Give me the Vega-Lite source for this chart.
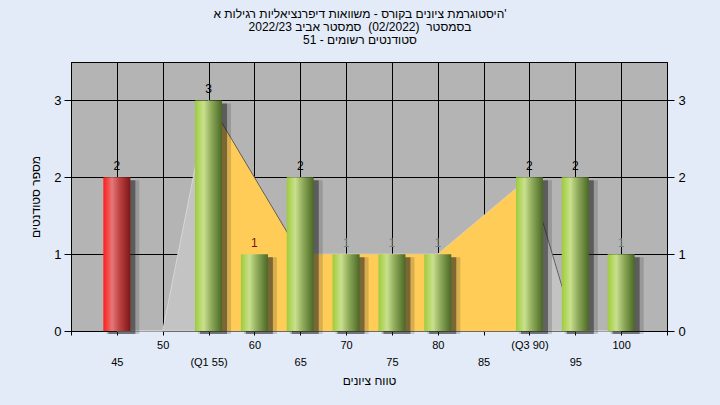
{
  "$schema": "https://vega.github.io/schema/vega-lite/v6.json",
  "width": 596,
  "height": 269,
  "autosize": "none",
  "padding": {"left": 71, "top": 62, "right": 53, "bottom": 74},
  "background": "#E2EBF7",
  "config": {
    "view": {"fill": "#B4B4B4", "stroke": "#000000", "strokeWidth": 1},
    "font": "Liberation Sans"
  },
  "title": {
    "text": [
      "היסטוגרמת ציונים בקורס - משוואות דיפרנציאליות רגילות א'",
      "בסמסטר \u00a0(02/2022)\u00a0 סמסטר אביב 2022/23",
      "סטודנטים רשומים - 51"
    ],
    "font": "Liberation Sans",
    "fontSize": 12,
    "fontWeight": "normal",
    "color": "#000000",
    "lineHeight": 13,
    "anchor": "middle",
    "offset": 15,
    "dx": -9
  },
  "datasets": {
    "bars": [
      {"score": 45, "count": 2},
      {"score": 50, "count": 0},
      {"score": 55, "count": 3},
      {"score": 60, "count": 1},
      {"score": 65, "count": 2},
      {"score": 70, "count": 1},
      {"score": 75, "count": 1},
      {"score": 80, "count": 1},
      {"score": 85, "count": 0},
      {"score": 90, "count": 2},
      {"score": 95, "count": 2},
      {"score": 100, "count": 1}
    ],
    "curve": [
      {"score": 45, "v": 0},
      {"score": 50, "v": 0},
      {"score": 55, "v": 3},
      {"score": 60, "v": 2},
      {"score": 65, "v": 1},
      {"score": 70, "v": 1},
      {"score": 75, "v": 1},
      {"score": 80, "v": 1},
      {"score": 85, "v": 1.5},
      {"score": 90, "v": 2},
      {"score": 95, "v": 0},
      {"score": 100, "v": 0}
    ],
    "edges": [
      {"seg": "a", "score": 55, "v": 3},
      {"seg": "a", "score": 65, "v": 1},
      {"seg": "b", "score": 90, "v": 2},
      {"seg": "b", "score": 95, "v": 0}
    ]
  },
  "encoding": {
    "x": {
      "field": "score",
      "type": "quantitative",
      "scale": {"domain": [40, 105], "nice": false, "zero": false, "padding": 0},
      "axis": {
        "values": [40, 45, 50, 55, 60, 65, 70, 75, 80, 85, 90, 95, 100, 105],
        "labelExpr": "datum.value == 40 || datum.value == 105 ? '' : datum.value == 55 ? ['', '(Q1 55)'] : datum.value == 90 ? '(Q3 90)' : (datum.value % 10 == 5 ? ['', datum.label] : datum.label)",
        "grid": true,
        "gridColor": "#000000",
        "gridWidth": 1,
        "gridOpacity": 1,
        "domainColor": "#000000",
        "tickColor": "#000000",
        "tickSize": 4,
        "labelFont": "Liberation Sans",
        "labelFontSize": 11,
        "labelColor": "#000000",
        "labelBaseline": "top",
        "labelLineHeight": 17,
        "labelPadding": 4,
        "labelFlush": false,
        "labelOverlap": false,
        "title": "טווח ציונים",
        "titleFont": "Liberation Sans",
        "titleFontSize": 12,
        "titleFontWeight": "normal",
        "titleColor": "#000000",
        "titlePadding": 8
      }
    }
  },
  "resolve": {"axis": {"y": "independent"}},
  "layer": [
    {
      "data": {"name": "curve"},
      "mark": {"type": "area", "color": "#C3C3C3", "stroke": "#D6D6D6", "strokeWidth": 1, "opacity": 1},
      "encoding": {
        "y": {
          "field": "v",
          "type": "quantitative",
          "scale": {"domain": [0, 3.5], "nice": false, "zero": true},
          "axis": {
            "orient": "left",
            "values": [0, 1, 2, 3],
            "format": "d",
            "grid": true,
            "gridColor": "#000000",
            "gridOpacity": 1,
            "gridWidth": 1,
            "domainColor": "#000000",
            "tickColor": "#000000",
            "tickSize": 7,
            "labelFont": "Liberation Sans",
            "labelFontSize": 13,
            "labelColor": "#000000",
            "labelPadding": 3,
            "title": "מספר סטודנטים",
            "titleFont": "Liberation Sans",
            "titleFontSize": 12,
            "titleFontWeight": "normal",
            "titleColor": "#000000",
            "titlePadding": 11
          }
        }
      }
    },
    {
      "data": {"name": "curve"},
      "transform": [{"filter": "datum.score >= 55 && datum.score <= 90"}],
      "mark": {"type": "area", "color": "#FFCC57", "opacity": 1},
      "encoding": {
        "y": {"field": "v", "type": "quantitative", "axis": null}
      }
    },
    {
      "data": {"name": "edges"},
      "mark": {"type": "line", "color": "#3C3C3C", "strokeWidth": 1, "opacity": 0.8},
      "encoding": {
        "y": {"field": "v", "type": "quantitative", "axis": null},
        "detail": {"field": "seg", "type": "nominal"}
      }
    },
    {
      "data": {"name": "bars"},
      "transform": [{"filter": "datum.count > 0"}],
      "mark": {"type": "bar", "width": 33, "color": "#202020", "opacity": 0.18, "xOffset": 6, "yOffset": 3, "y2Offset": 4},
      "encoding": {
        "y": {"field": "count", "type": "quantitative", "axis": null}
      }
    },
    {
      "data": {"name": "bars"},
      "transform": [{"filter": "datum.count > 0"}],
      "mark": {"type": "bar", "width": 27, "color": "#202020", "opacity": 0.5, "xOffset": 5, "yOffset": 3, "y2Offset": 3},
      "encoding": {
        "y": {"field": "count", "type": "quantitative", "axis": null}
      }
    },
    {
      "data": {"name": "bars"},
      "transform": [{"filter": "datum.count > 0 && datum.score < 50"}],
      "mark": {
        "type": "bar",
        "width": 27,
        "color": {
          "gradient": "linear",
          "x1": 0, "x2": 1, "y1": 0, "y2": 0,
          "stops": [
            {"offset": 0, "color": "#FF1E1E"},
            {"offset": 0.12, "color": "#F53C3C"},
            {"offset": 0.32, "color": "#E67878"},
            {"offset": 0.6, "color": "#BE4242"},
            {"offset": 1, "color": "#7E1616"}
          ]
        }
      },
      "encoding": {
        "y": {"field": "count", "type": "quantitative", "axis": null}
      }
    },
    {
      "data": {"name": "bars"},
      "transform": [{"filter": "datum.count > 0 && datum.score >= 50"}],
      "mark": {
        "type": "bar",
        "width": 27,
        "color": {
          "gradient": "linear",
          "x1": 0, "x2": 1, "y1": 0, "y2": 0,
          "stops": [
            {"offset": 0, "color": "#9CCB3C"},
            {"offset": 0.12, "color": "#AFD458"},
            {"offset": 0.32, "color": "#C9E08E"},
            {"offset": 0.6, "color": "#8EAA5A"},
            {"offset": 1, "color": "#4A6824"}
          ]
        }
      },
      "encoding": {
        "y": {"field": "count", "type": "quantitative", "axis": null}
      }
    },
    {
      "data": {"name": "bars"},
      "transform": [{"filter": "datum.count > 0"}],
      "mark": {"type": "text", "baseline": "bottom", "dy": -4, "fontSize": 12, "fontWeight": "normal", "font": "Liberation Sans"},
      "encoding": {
        "y": {
          "field": "count",
          "type": "quantitative",
          "axis": {
            "orient": "right",
            "values": [0, 1, 2, 3],
            "format": "d",
            "grid": false,
            "domainColor": "#000000",
            "tickColor": "#000000",
            "tickSize": 7,
            "labelFont": "Liberation Sans",
            "labelFontSize": 13,
            "labelColor": "#000000",
            "labelPadding": 4,
            "title": null
          }
        },
        "text": {"field": "count", "type": "quantitative"},
        "color": {
          "condition": [
            {"test": "datum.score == 60", "value": "#7A1212"},
            {"test": "datum.count == 1", "value": "#6F8399"}
          ],
          "value": "#000000"
        }
      }
    },
    {
      "data": {"values": [{"note": "במשימה : Final_B"}]},
      "mark": {"type": "text", "fontSize": 12, "font": "Liberation Sans", "color": "#222222"},
      "encoding": {
        "x": {"datum": 72.5, "type": "quantitative"},
        "y": {"datum": 3.33, "type": "quantitative", "axis": null},
        "text": {"field": "note", "type": "nominal"}
      }
    }
  ]
}
